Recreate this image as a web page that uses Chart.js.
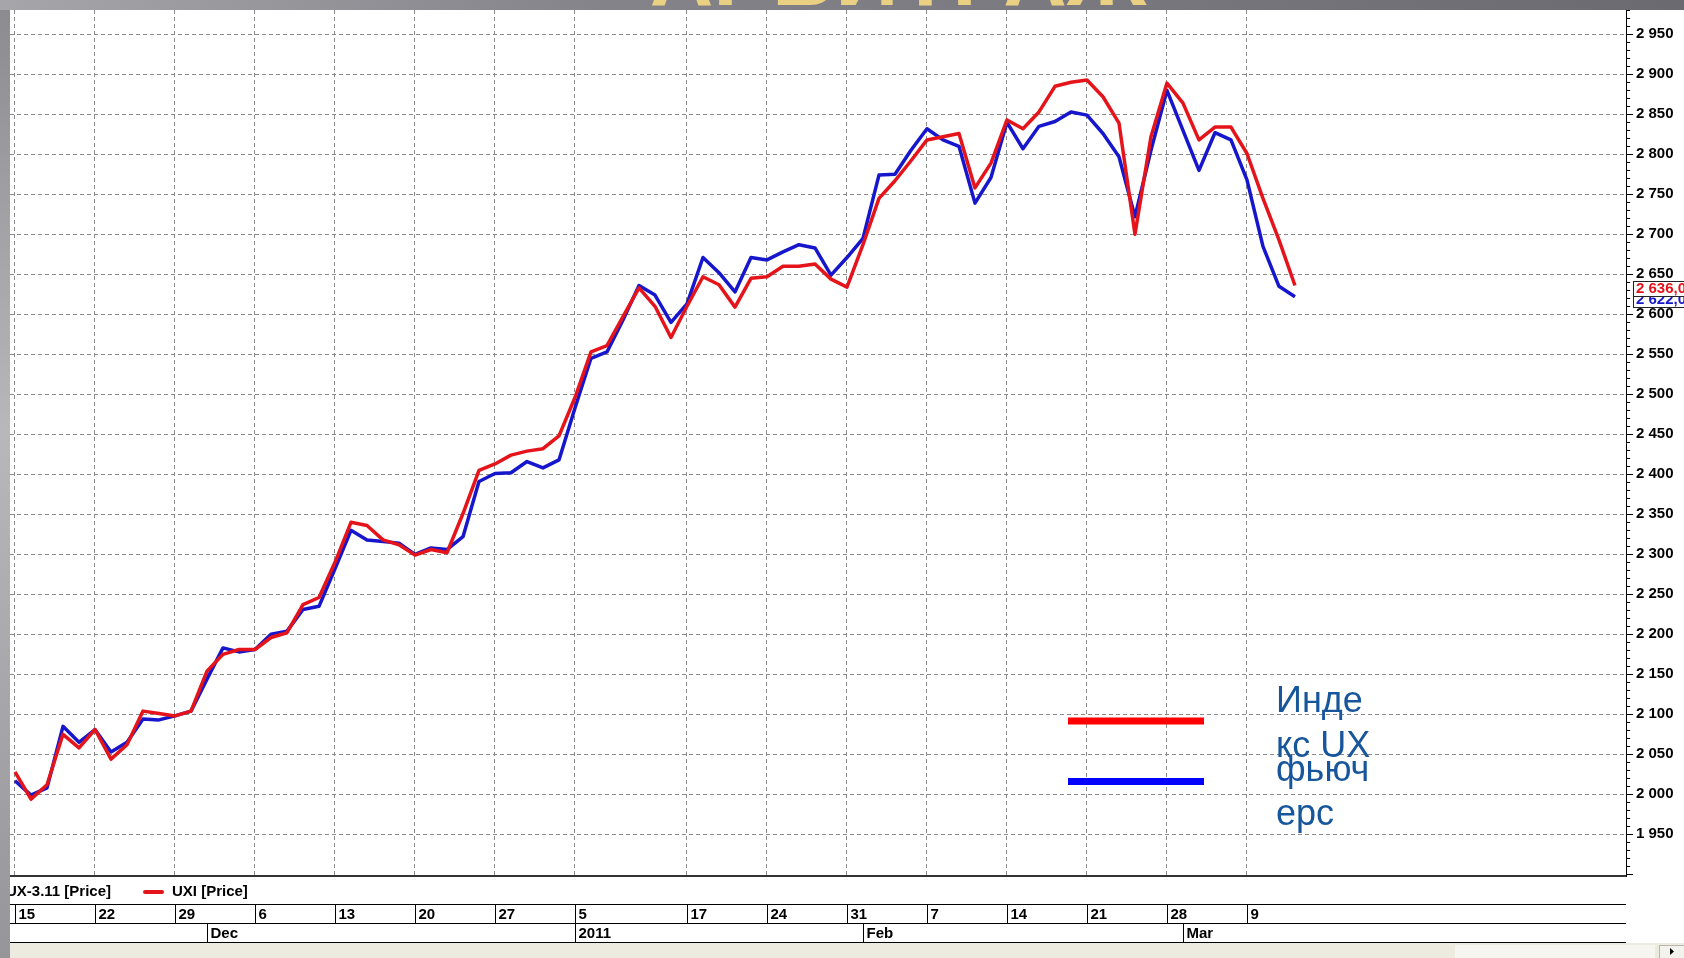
<!DOCTYPE html>
<html><head><meta charset="utf-8">
<script src="https://cdn.jsdelivr.net/npm/chart.js@4.4.0/dist/chart.umd.min.js"></script>
<style>html,body{margin:0;padding:0;background:#fff;overflow:hidden}canvas{display:block}</style>
</head><body>
<canvas id="c" width="1684" height="958"></canvas>
<script>
// Trading days (categories)
const tradingDays = [
 '2010-11-15','2010-11-16','2010-11-17','2010-11-18','2010-11-19','2010-11-22','2010-11-23','2010-11-24','2010-11-25','2010-11-26','2010-11-29','2010-11-30',
 '2010-12-01','2010-12-02','2010-12-03','2010-12-06','2010-12-07','2010-12-08','2010-12-09','2010-12-10','2010-12-13','2010-12-14','2010-12-15','2010-12-16','2010-12-17',
 '2010-12-20','2010-12-21','2010-12-22','2010-12-23','2010-12-24','2010-12-27','2010-12-28','2010-12-29','2010-12-30','2010-12-31',
 '2011-01-05','2011-01-06','2011-01-10','2011-01-11','2011-01-12','2011-01-13','2011-01-14','2011-01-17','2011-01-18','2011-01-19','2011-01-20','2011-01-21',
 '2011-01-24','2011-01-25','2011-01-26','2011-01-27','2011-01-28','2011-01-31',
 '2011-02-01','2011-02-02','2011-02-03','2011-02-04','2011-02-07','2011-02-08','2011-02-09','2011-02-10','2011-02-11','2011-02-14','2011-02-15','2011-02-16','2011-02-17','2011-02-18',
 '2011-02-21','2011-02-22','2011-02-23','2011-02-24','2011-02-25','2011-02-28',
 '2011-03-01','2011-03-02','2011-03-03','2011-03-04','2011-03-09','2011-03-10','2011-03-11','2011-03-14'
];
// UXI index (red)
const uxiValues = [
 2028,1994,2012,2075,2058,2081,2044,2062,2104,2101,2098,2104,
 2154,2175,2181,2181,2196,2202,2237,2246,2290,2340,2336,2318,2312,
 2299,2306,2302,2351,2405,2413,2424,2429,2432,2448,
 2496,2553,2561,2597,2633,2610,2571,2610,2647,2637,2609,2645,
 2647,2660,2660,2663,2644,2634,
 2687,2745,2767,2792,2818,2822,2826,2758,2789,2843,2832,2853,2885,2890,
 2893,2872,2839,2700,2822,2889,
 2864,2818,2834,2834,2801,2745,2693,2636
];
// UX-3.11 futures (blue)
const futValues = [
 2017,1999,2008,2085,2065,2081,2053,2065,2094,2093,2098,2104,
 2144,2183,2178,2181,2200,2204,2231,2235,2282,2330,2318,2316,2314,
 2300,2308,2306,2322,2391,2401,2402,2416,2408,2418,
 2483,2545,2553,2593,2636,2624,2590,2613,2671,2652,2628,2671,
 2668,2678,2687,2683,2649,2671,
 2695,2774,2775,2805,2832,2818,2810,2739,2771,2840,2807,2835,2841,2853,
 2849,2826,2797,2722,2805,2880,
 2830,2780,2827,2818,2768,2685,2635,2622
];
const weekTickDates = ['2010-11-15','2010-11-22','2010-11-29','2010-12-06','2010-12-13','2010-12-20','2010-12-27','2011-01-05','2011-01-17','2011-01-24','2011-01-31','2011-02-07','2011-02-14','2011-02-21','2011-02-28','2011-03-09'];
const weekTickLabels = ['15','22','29','6','13','20','27','5','17','24','31','7','14','21','28','9'];
const monthStartDates = ['2010-12-01','2011-01-05','2011-02-01','2011-03-01'];
const monthLabels = ['Dec','2011','Feb','Mar'];
const yTickValues = [1950,2000,2050,2100,2150,2200,2250,2300,2350,2400,2450,2500,2550,2600,2650,2700,2750,2800,2850,2900,2950];
const lastLabels = ['2 636,0','2 622,0'];
const seriesNames = ['UX-3.11 [Price]','UXI [Price]'];
const overlayLegend = [['Инде','кс UX'],['фьюч','ерс']];
const titleText = 'АРБИТРАЖ';

const weekIdx = weekTickDates.map(d => tradingDays.indexOf(d));
const monthIdx = monthStartDates.map(d => tradingDays.indexOf(d));
const RED = '#e5141b', BLUE = '#1616cc';
const FONT = "'Liberation Sans', Arial, sans-serif";
const fmt = v => { const s = String(Math.round(v)); return s.length > 3 ? s.slice(0, s.length-3) + ' ' + s.slice(-3) : s; };

const deco = {
  id: 'deco',
  beforeDraw(chart) {
    const ctx = chart.ctx;
    ctx.save(); ctx.fillStyle = '#fff'; ctx.fillRect(0, 0, chart.width, chart.height); ctx.restore();
  },
  afterDraw(chart) {
    const ctx = chart.ctx, xs = chart.scales.x, ys = chart.scales.y, ca = chart.chartArea;
    ctx.save();
    // y minor/major tick marks
    ctx.strokeStyle = '#000'; ctx.lineWidth = 1;
    for (let v = 1900; v <= 2980; v += 10) {
      const py = Math.round(ys.getPixelForValue(v)) + 0.5;
      const len = (v % 50 === 0) ? 7 : 4;
      ctx.beginPath(); ctx.moveTo(ca.right, py); ctx.lineTo(ca.right + len, py); ctx.stroke();
    }
    // last value labels
    ctx.font = 'bold 15px ' + FONT; ctx.textBaseline = 'middle'; ctx.textAlign = 'left';
    const lastF = futValues[futValues.length-1], lastU = uxiValues[uxiValues.length-1];
    [[lastF, lastLabels[1], BLUE], [lastU, lastLabels[0], RED]].forEach(([v, t, c]) => {
      const py = ys.getPixelForValue(v) + 3;
      ctx.fillStyle = '#fff'; ctx.fillRect(ca.right + 7, py - 7.5, 60, 15);
      ctx.strokeStyle = '#222'; ctx.lineWidth = 1; ctx.strokeRect(ca.right + 7.5, Math.round(py - 7.5) + 0.5, 60, 15);
      ctx.fillStyle = c; ctx.fillText(t, ca.right + 10, py + 0.5);
    });
    // series legend row
    ctx.font = 'bold 15px ' + FONT; ctx.fillStyle = '#000';
    ctx.lineCap = 'round';
    ctx.strokeStyle = BLUE; ctx.lineWidth = 4;
    ctx.beginPath(); ctx.moveTo(-25, 892); ctx.lineTo(-8, 892); ctx.stroke();
    ctx.fillText(seriesNames[0], 6, 892);
    ctx.strokeStyle = RED;
    ctx.beginPath(); ctx.moveTo(145, 892); ctx.lineTo(162, 892); ctx.stroke();
    ctx.fillStyle = '#000'; ctx.fillText(seriesNames[1], 172, 892);
    ctx.lineCap = 'butt';
    // day / month rows
    const r1 = 904.5, r2 = 923.5, r3 = 942.5;
    ctx.strokeStyle = '#000'; ctx.lineWidth = 1;
    [r1, r2, r3].forEach(y => { ctx.beginPath(); ctx.moveTo(ca.left, y); ctx.lineTo(ca.right, y); ctx.stroke(); });
    ctx.fillStyle = '#000';
    weekIdx.forEach((idx, k) => {
      const px = Math.round(xs.getPixelForValue(idx)) + 0.5;
      ctx.beginPath(); ctx.moveTo(px, r1); ctx.lineTo(px, r2); ctx.stroke();
      ctx.fillText(weekTickLabels[k], px + 3, 914.5);
    });
    monthIdx.forEach((idx, k) => {
      const px = Math.round(xs.getPixelForValue(idx)) + 0.5;
      ctx.beginPath(); ctx.moveTo(px, r2); ctx.lineTo(px, r3); ctx.stroke();
      ctx.fillText(monthLabels[k], px + 3, 933.5);
    });
    // overlay legend
    ctx.lineWidth = 7;
    ctx.strokeStyle = '#ff0000'; ctx.beginPath(); ctx.moveTo(1068, 721); ctx.lineTo(1204, 721); ctx.stroke();
    ctx.strokeStyle = '#0000ff'; ctx.beginPath(); ctx.moveTo(1068, 781.5); ctx.lineTo(1204, 781.5); ctx.stroke();
    ctx.font = '36px ' + FONT; ctx.fillStyle = '#17569b'; ctx.textBaseline = 'alphabetic';
    ctx.fillText(overlayLegend[0][0], 1276, 712);
    ctx.fillText(overlayLegend[0][1], 1276, 757);
    ctx.fillText(overlayLegend[1][0], 1276, 781);
    ctx.fillText(overlayLegend[1][1], 1276, 825);
    // bottom strip
    ctx.fillStyle = '#edeae0'; ctx.fillRect(0, 943, chart.width, 15);
    ctx.fillStyle = '#f6f5f0'; ctx.fillRect(1455, 945, 200, 13);
    ctx.fillStyle = '#f3f2ec'; ctx.fillRect(1659, 945, 25, 13);
    ctx.strokeStyle = '#b8b6ac'; ctx.lineWidth = 1; ctx.strokeRect(1659.5, 945.5, 25, 13);
    ctx.fillStyle = '#000'; ctx.beginPath(); ctx.moveTo(1670, 948); ctx.lineTo(1674, 951.5); ctx.lineTo(1670, 955); ctx.closePath(); ctx.fill();
    // top bar with title
    const g = ctx.createLinearGradient(0, 0, chart.width, 0);
    g.addColorStop(0, '#a6a6aa'); g.addColorStop(0.35, '#85848a'); g.addColorStop(1, '#6b6a70');
    ctx.fillStyle = g; ctx.fillRect(0, 0, chart.width, 10);
    ctx.save(); ctx.beginPath(); ctx.rect(0, 0, chart.width, 10); ctx.clip();
    ctx.font = 'bold 88px ' + FONT; ctx.fillStyle = '#ead083'; ctx.textAlign = 'center'; ctx.textBaseline = 'alphabetic';
    ctx.fillText(titleText, 898, 5);
    ctx.restore();
    // left strip
    const g2 = ctx.createLinearGradient(0, 0, 0, chart.height);
    g2.addColorStop(0, '#8b8b8f'); g2.addColorStop(0.45, '#b8b8bb'); g2.addColorStop(1, '#96969a');
    ctx.fillStyle = g2; ctx.fillRect(0, 10, 10, chart.height - 10);
    ctx.restore();
  }
};

new Chart(document.getElementById('c'), {
  type: 'line',
  data: {
    datasets: [
      { label: seriesNames[1], data: uxiValues.map((v, i) => ({x: i, y: v})), borderColor: RED, borderWidth: 3.5, pointRadius: 0, tension: 0, borderJoinStyle: 'round', fill: false },
      { label: seriesNames[0], data: futValues.map((v, i) => ({x: i, y: v})), borderColor: BLUE, borderWidth: 3.5, pointRadius: 0, tension: 0, borderJoinStyle: 'round', fill: false }
    ]
  },
  options: {
    responsive: false, animation: false, devicePixelRatio: 1,
    layout: { padding: { left: 10, top: 10, right: 0, bottom: 0 } },
    plugins: { legend: { display: false }, tooltip: { enabled: false } },
    scales: {
      x: {
        type: 'linear', min: -0.3125, max: 100.69,
        afterBuildTicks: s => { s.ticks = weekIdx.map(v => ({ value: v })); },
        afterFit: s => { s.height = 82; s.paddingLeft = 0; s.paddingRight = 0; s.paddingTop = 0; s.paddingBottom = 0; },
        ticks: { display: false },
        grid: { color: '#8a8a8a', lineWidth: 1, drawTicks: false },
        border: { display: true, color: '#333', width: 2, dash: [4, 3] }
      },
      y: {
        position: 'right', min: 1897.9, max: 2980.4,
        afterBuildTicks: s => { s.ticks = yTickValues.map(v => ({ value: v })); },
        afterFit: s => { s.width = 58; s.paddingTop = 0; s.paddingBottom = 0; s.paddingLeft = 0; s.paddingRight = 0; },
        ticks: { padding: 10, color: '#000', font: { family: FONT, size: 15, weight: 'bold' }, callback: v => fmt(v) },
        grid: { color: '#8a8a8a', lineWidth: 1, drawTicks: false },
        border: { display: true, color: '#000', width: 1, dash: [4, 3] }
      }
    }
  },
  plugins: [deco]
});
</script>
</body></html>
